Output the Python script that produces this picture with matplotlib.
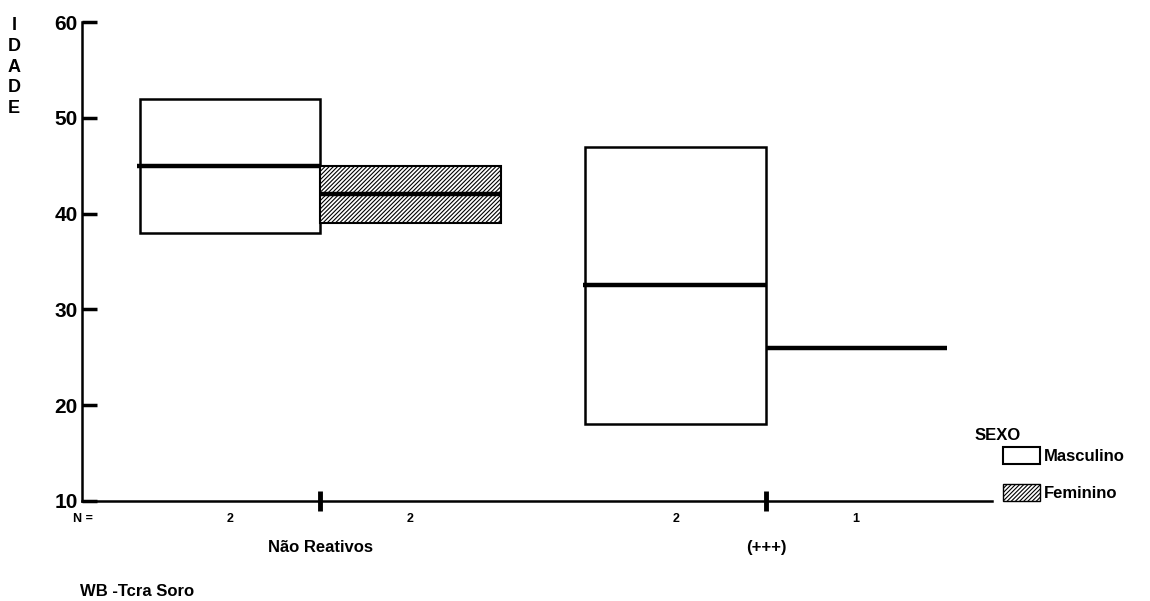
import numpy as np
import matplotlib
matplotlib.use("Agg")
import matplotlib.pyplot as plt
from matplotlib.patches import Patch
from matplotlib.transforms import blended_transform_factory

plt.rcParams['font.family'] = ['Liberation Sans', 'DejaVu Sans']
plt.rcParams['hatch.linewidth'] = 0.8

grupos = ["Não Reativos", "(+++)"]
sexos = ["Masculino", "Feminino"]
# caixas: q1, mediana, q3 por grupo
masc_q1 = [38, 18]
masc_med = [45, 32.5]
masc_q3 = [52, 47]
fem_q1 = [39, 26]
fem_med = [42, 26]
fem_q3 = [45, 26]
n_masc = [2, 2]
n_fem = [2, 1]

pos = np.array([1, 2])
w = 0.405

fig = plt.figure(figsize=(11.5, 6.01), dpi=100)
ax = fig.add_axes([82 / 1150, 100 / 601, (992 - 82) / 1150, (501 - 22) / 601])

ax.bar(pos - w, np.array(masc_q3) - np.array(masc_q1), bottom=masc_q1, width=w,
       align='edge', facecolor='white', edgecolor='black', linewidth=1.8)
ax.bar(pos, np.array(fem_q3) - np.array(fem_q1), bottom=fem_q1, width=w,
       align='edge', facecolor='white', edgecolor='black', linewidth=1.5, hatch='////////')
ax.hlines(masc_med, pos - w - 0.005, pos, colors='black', linewidth=3.2)
ax.hlines(fem_med, pos, pos + w, colors='black', linewidth=3.2)

ax.set_xlim(0.466, 2.507)
ax.set_ylim(10, 60)
ax.set_yticks([10, 20, 30, 40, 50, 60])
ax.spines['top'].set_visible(False)
ax.spines['right'].set_visible(False)
ax.spines['left'].set_linewidth(1.8)
ax.spines['bottom'].set_linewidth(1.8)
ax.tick_params(axis='y', direction='in', length=11, width=2.5, pad=3, labelsize=15)
for t in ax.get_yticklabels():
    t.set_fontweight('bold')
ax.set_xticks(pos)
ax.set_xticklabels(grupos, fontsize=12, fontweight='bold')
ax.tick_params(axis='x', direction='inout', length=14, width=3.5, pad=21)

trans = blended_transform_factory(ax.transData, fig.transFigure)
for p, nm, nf in zip(pos, n_masc, n_fem):
    ax.text(p - w / 2, 1 - 519 / 601, str(nm), transform=trans, ha='center', va='center',
            fontsize=9, fontweight='bold')
    ax.text(p + w / 2, 1 - 519 / 601, str(nf), transform=trans, ha='center', va='center',
            fontsize=9, fontweight='bold')
fig.text(83 / 1150, 1 - 519 / 601, "N =", ha='center', va='center', fontsize=9, fontweight='bold')
fig.text(80 / 1150, 1 - 592 / 601, "WB -Tcra Soro", ha='left', va='center', fontsize=12, fontweight='bold')
fig.text(14 / 1150, 1 - 67 / 601, "I\nD\nA\nD\nE", ha='center', va='center', fontsize=13,
         fontweight='bold', linespacing=1.3)

fig.text(975 / 1150, 1 - 436 / 601, "SEXO", ha='left', va='center', fontsize=12, fontweight='bold')
handles = [Patch(facecolor='white', edgecolor='black', linewidth=1.5),
           Patch(facecolor='white', edgecolor='black', linewidth=1.0, hatch='////////')]
fig.legend(handles, sexos, loc='upper left', bbox_to_anchor=(988 / 1150, 1 - 432 / 601),
           frameon=False, handlelength=2.2, handleheight=1.2, handletextpad=0.25,
           labelspacing=1.2, prop={'size': 12, 'weight': 'bold'})

fig.savefig("out.png", dpi=100)
